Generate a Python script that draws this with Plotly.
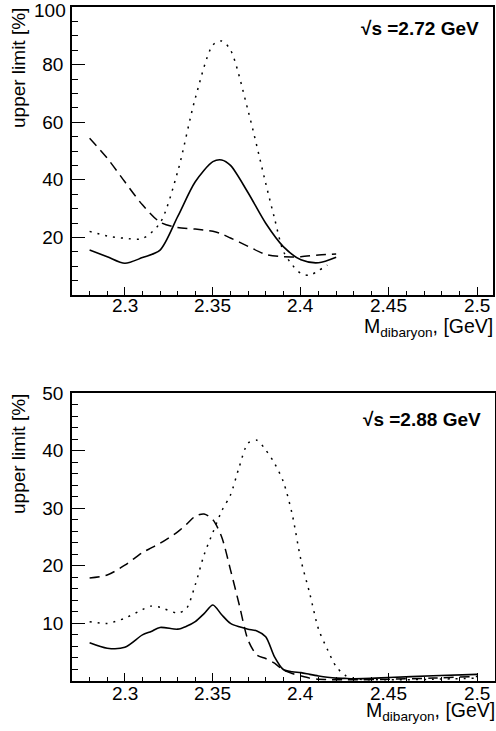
import plotly.graph_objects as go

# ---------------- data: top panel (sqrt(s) = 2.72 GeV) ----------------
top_mass = [2.28, 2.29, 2.30, 2.31, 2.32, 2.33, 2.34, 2.35, 2.355, 2.36, 2.37, 2.38, 2.39, 2.40, 2.41, 2.42]
top_solid = [15.6, 13.3, 11.0, 13.0, 15.6, 27.2, 39.3, 46.3, 46.9, 45.0, 35.5, 24.9, 16.8, 12.2, 11.2, 13.1]
top_dashed = [54.4, 47.5, 39.3, 31.3, 25.3, 23.4, 22.9, 22.1, 21.2, 19.8, 16.9, 14.1, 13.3, 13.3, 13.9, 14.2]
top_dot_mass = [2.28, 2.29, 2.30, 2.31, 2.32, 2.33, 2.34, 2.35, 2.355, 2.36, 2.37, 2.38, 2.385, 2.39, 2.395,
                2.40, 2.405, 2.41, 2.415]
top_dotted = [22.1, 20.5, 19.7, 19.6, 25.0, 42.8, 68.3, 86.8, 88.2, 85.1, 64.0, 38.8, 26.6, 15.2, 10.5,
              7.5, 6.9, 8.5, 10.4]

# ---------------- data: bottom panel (sqrt(s) = 2.88 GeV) ----------------
bot_mass = [2.28, 2.29, 2.30, 2.31, 2.315, 2.32, 2.33, 2.335, 2.34, 2.345, 2.35, 2.355, 2.36, 2.365, 2.37,
            2.375, 2.38, 2.385, 2.39, 2.395, 2.40, 2.405, 2.41, 2.415, 2.42, 2.425, 2.43, 2.45, 2.475, 2.50]
bot_solid = [6.65, 5.7, 5.85, 8.0, 8.6, 9.3, 9.0, 9.5, 10.3, 11.7, 13.2, 11.5, 10.0, 9.4, 9.0,
             8.7, 7.7, 4.2, 2.0, 1.6, 1.45, 1.15, 0.87, 0.65, 0.5, 0.45, 0.4, 0.6, 0.9, 1.15]
bot_dashed = [17.9, 18.4, 20.1, 22.3, 23.1, 23.9, 25.9, 27.2, 28.6, 29.0, 28.0, 25.0, 19.3, 13.2, 7.1,
              4.5, 3.9, 3.1, 1.9, 1.3, 0.87, 0.5, 0.3, 0.25, 0.2, 0.2, 0.2, 0.3, 0.5, 0.8]
bot_dotted = [10.3, 10.0, 10.9, 12.4, 13.0, 12.8, 11.8, 12.6, 16.7, 21.9, 25.8, 29.5, 32.3, 37.2, 41.3,
              41.8, 40.1, 37.8, 34.6, 29.0, 21.0, 15.2, 9.0, 5.5, 2.5, 1.0, 0.4, 0.2, 0.3, 0.5]

x_tickvals = [2.3, 2.35, 2.4, 2.45, 2.5]
x_ticktext = ["2.3", "2.35", "2.4", "2.45", "2.5"]
top_ytickvals = [20, 40, 60, 80, 100]
bot_ytickvals = [10, 20, 30, 40, 50]
top_label = "<b>√s =2.72 GeV</b>"
bot_label = "<b>√s =2.88 GeV</b>"
y_title = "upper limit [%]"
x_title = "M<sub>dibaryon</sub>, [GeV]"

W, H = 496, 731
FONT = "Liberation Sans, Arial, Helvetica, sans-serif"
FS = 19

fig = go.Figure()


def add(x, y, dash, xa, ya):
    fig.add_trace(go.Scatter(
        x=x, y=y, mode="lines", xaxis=xa, yaxis=ya, showlegend=False,
        line=dict(color="black", width=1.6 if dash == "solid" else 1.5, dash=dash,
                  shape="spline", smoothing=0.8),
        hoverinfo="skip"))


add(top_mass, top_dashed, "10px,6px", "x", "y")
add(top_dot_mass, top_dotted, "2px,6px", "x", "y")
add(top_mass, top_solid, "solid", "x", "y")
add(bot_mass, bot_dashed, "10px,6px", "x2", "y2")
add(bot_mass, bot_dotted, "2px,6px", "x2", "y2")
add(bot_mass, bot_solid, "solid", "x2", "y2")

# pixel geometry of frames
L = 72
top_R, bot_R = 493, 495
top_T, top_B = 7, 295
bot_T, bot_B = 393, 681

px_per_unit = 1765.0
top_xmax = 2.5 + (top_R - 477) / px_per_unit
bot_xmax = 2.5 + (bot_R - 477) / px_per_unit


def xaxis(dom, xmax, anchor):
    return dict(domain=dom, anchor=anchor, range=[2.27, xmax], automargin=False,
                tickvals=x_tickvals, showticklabels=False,
                ticks="inside", ticklen=8, tickwidth=1, tickcolor="black",
                minor=dict(tick0=2.28, dtick=0.01, ticks="inside", ticklen=4,
                           tickwidth=1, tickcolor="black"),
                showline=True, linecolor="black", linewidth=1.5, mirror=True,
                showgrid=False, zeroline=False)


def yaxis(dom, rng, tv, minor_dt, anchor, hide_top=False):
    txt = [str(v) for v in tv]
    if hide_top:
        txt[-1] = ""
    return dict(domain=dom, anchor=anchor, range=rng, tickvals=tv, automargin=False,
                ticktext=txt, ticklabeloverflow="allow",
                ticks="inside", ticklen=13, tickwidth=1, tickcolor="black",
                minor=dict(tick0=0, dtick=minor_dt, ticks="inside", ticklen=6,
                           tickwidth=1, tickcolor="black"),
                showline=True, linecolor="black", linewidth=1.5, mirror=True,
                showgrid=False, zeroline=False,
                tickfont=dict(family=FONT, size=FS, color="black"),
                ticklabelstandoff=3)


fig.update_layout(
    width=W, height=H,
    margin=dict(l=0, r=0, t=0, b=0, autoexpand=False),
    paper_bgcolor="white", plot_bgcolor="white",
    xaxis=xaxis([L / W, top_R / W], top_xmax, "y"),
    yaxis=yaxis([1 - top_B / H, 1 - top_T / H], [0, 100], top_ytickvals, 5, "x", hide_top=True),
    xaxis2=xaxis([L / W, bot_R / W], bot_xmax, "y2"),
    yaxis2=yaxis([1 - bot_B / H, 1 - bot_T / H], [0, 50], bot_ytickvals, 2, "x2"),
)

ann_font = dict(family=FONT, size=FS, color="black")

# topmost label of the upper panel, nudged down so it stays inside the page
fig.add_annotation(text=str(top_ytickvals[-1]), xref="paper", yref="y",
                   x=(L - 4) / W, y=top_ytickvals[-1], yshift=-4,
                   xanchor="right", yanchor="middle", showarrow=False, font=ann_font)

panels = [
    # label, frame top, frame bottom, frame right, x-axis ref, label dy, ticklabel dy, xtitle dy
    (top_label, top_T, top_B, top_R, "x", 21, 10, 32),
    (bot_label, bot_T, bot_B, bot_R, "x2", 26, 12, 30),
]
for lab, ytop, ybot, xr, xref, lab_dy, tl_dy, xt_dy in panels:
    # energy label
    fig.add_annotation(text=lab, xref="paper", yref="paper",
                       x=(xr - 12) / W, y=1 - (ytop + lab_dy) / H,
                       xanchor="right", yanchor="middle", showarrow=False,
                       font=dict(family=FONT, size=FS, color="black"))
    # x tick labels
    for tv, tt in zip(x_tickvals, x_ticktext):
        fig.add_annotation(text=tt, xref=xref, yref="paper",
                           x=tv, y=1 - (ybot + tl_dy) / H,
                           xanchor="center", yanchor="middle", showarrow=False,
                           font=ann_font)
    # y title
    fig.add_annotation(text=y_title, xref="paper", yref="paper",
                       x=18 / W, y=1 - (ytop - 1) / H, textangle=-90,
                       xanchor="center", yanchor="top", showarrow=False,
                       font=ann_font)
    # x title
    fig.add_annotation(text=x_title, xref="paper", yref="paper",
                       x=(xr + 2) / W, y=1 - (ybot + xt_dy) / H,
                       xanchor="right", yanchor="middle", showarrow=False,
                       font=dict(family=FONT, size=19.5, color="black"))

fig.write_html("out.html", config={"displayModeBar": False},
               post_script="document.body.style.margin='0';document.body.style.overflow='hidden';")
